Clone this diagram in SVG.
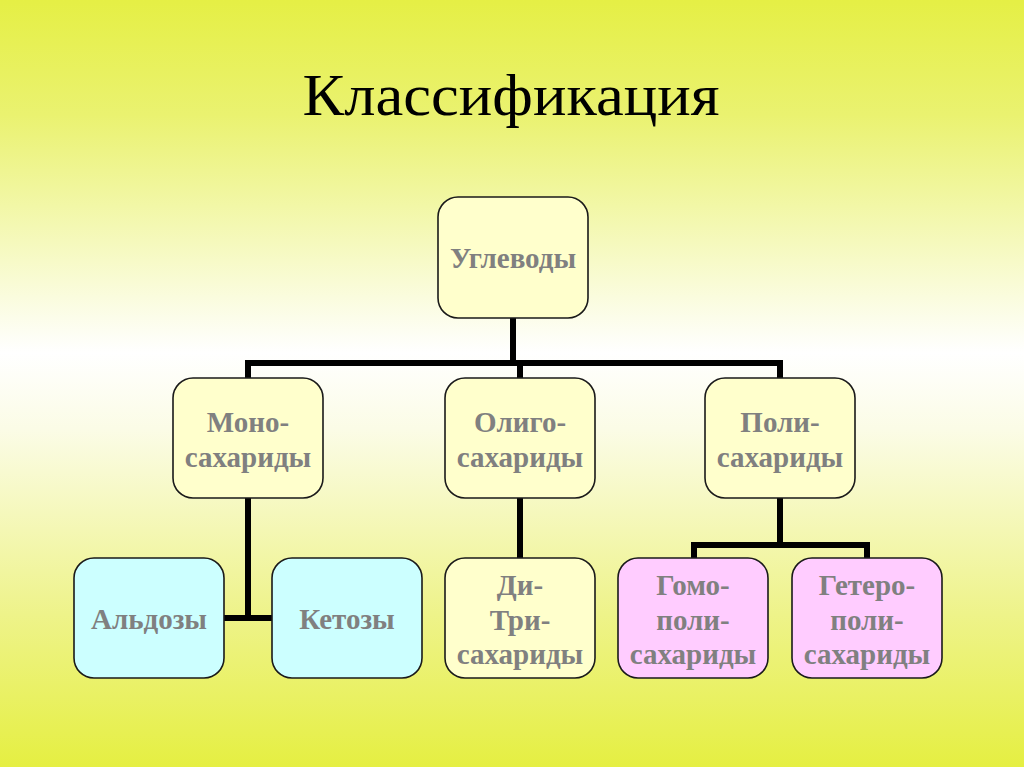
<svg xmlns="http://www.w3.org/2000/svg" width="1024" height="767" viewBox="0 0 1024 767">
<defs>
<linearGradient id="bg" x1="0" y1="0" x2="0" y2="1">
<stop offset="0" stop-color="#e5ef45"/>
<stop offset="0.15" stop-color="#eaf270"/>
<stop offset="0.46" stop-color="#ffffff"/>
<stop offset="0.56" stop-color="#fbfce6"/>
<stop offset="0.8" stop-color="#eef38a"/>
<stop offset="1" stop-color="#e5ef42"/>
</linearGradient>
<style>
.box{stroke:#1a1a1a;stroke-width:1.6}
.y{fill:#ffffcc}
.c{fill:#ccffff}
.p{fill:#ffccff}
.t{font-family:"Liberation Serif","Times New Roman",serif;font-weight:bold;font-size:29px;fill:#808080;text-anchor:middle}
.con{stroke:#000;stroke-width:6;fill:none;stroke-linecap:butt;stroke-linejoin:miter}
</style>
</defs>
<rect x="0" y="0" width="1024" height="767" fill="url(#bg)"/>
<text x="511" y="115" font-family="Liberation Serif,'Times New Roman',serif" font-size="60" fill="#000" text-anchor="middle" textLength="417" lengthAdjust="spacingAndGlyphs">Классификация</text>
<g id="connectors">
<path class="con" d="M513 318 V363 M245 363 H783 M248 363 V378 M520 363 V378 M780 363 V378"/>
<path class="con" d="M248 498 V618 M224 618 H272"/>
<path class="con" d="M520 498 V558"/>
<path class="con" d="M780 498 V545 M691 545 H870 M694 545 V558 M867 545 V558"/>
</g>
<g id="n-uglevody"><rect class="box y" x="438" y="197" width="150" height="121" rx="20"/><text class="t" x="513" y="268">Углеводы</text></g>
<g id="n-mono"><rect class="box y" x="173" y="378" width="150" height="120" rx="20"/><text class="t" x="248" y="432">Моно-</text><text class="t" x="248" y="467">сахариды</text></g>
<g id="n-oligo"><rect class="box y" x="445" y="378" width="150" height="120" rx="20"/><text class="t" x="520" y="432">Олиго-</text><text class="t" x="520" y="467">сахариды</text></g>
<g id="n-poli"><rect class="box y" x="705" y="378" width="150" height="120" rx="20"/><text class="t" x="780" y="432">Поли-</text><text class="t" x="780" y="467">сахариды</text></g>
<g id="n-aldozy"><rect class="box c" x="74" y="558" width="150" height="120" rx="20"/><text class="t" x="149" y="629">Альдозы</text></g>
<g id="n-ketozy"><rect class="box c" x="272" y="558" width="150" height="120" rx="20"/><text class="t" x="347" y="629">Кетозы</text></g>
<g id="n-di"><rect class="box y" x="445" y="558" width="150" height="120" rx="20"/><text class="t" x="520" y="595">Ди-</text><text class="t" x="520" y="630">Три-</text><text class="t" x="520" y="664">сахариды</text></g>
<g id="n-gomo"><rect class="box p" x="618" y="558" width="150" height="120" rx="20"/><text class="t" x="693" y="595">Гомо-</text><text class="t" x="693" y="630">поли-</text><text class="t" x="693" y="664">сахариды</text></g>
<g id="n-getero"><rect class="box p" x="792" y="558" width="150" height="120" rx="20"/><text class="t" x="867" y="595">Гетеро-</text><text class="t" x="867" y="630">поли-</text><text class="t" x="867" y="664">сахариды</text></g>
</svg>
